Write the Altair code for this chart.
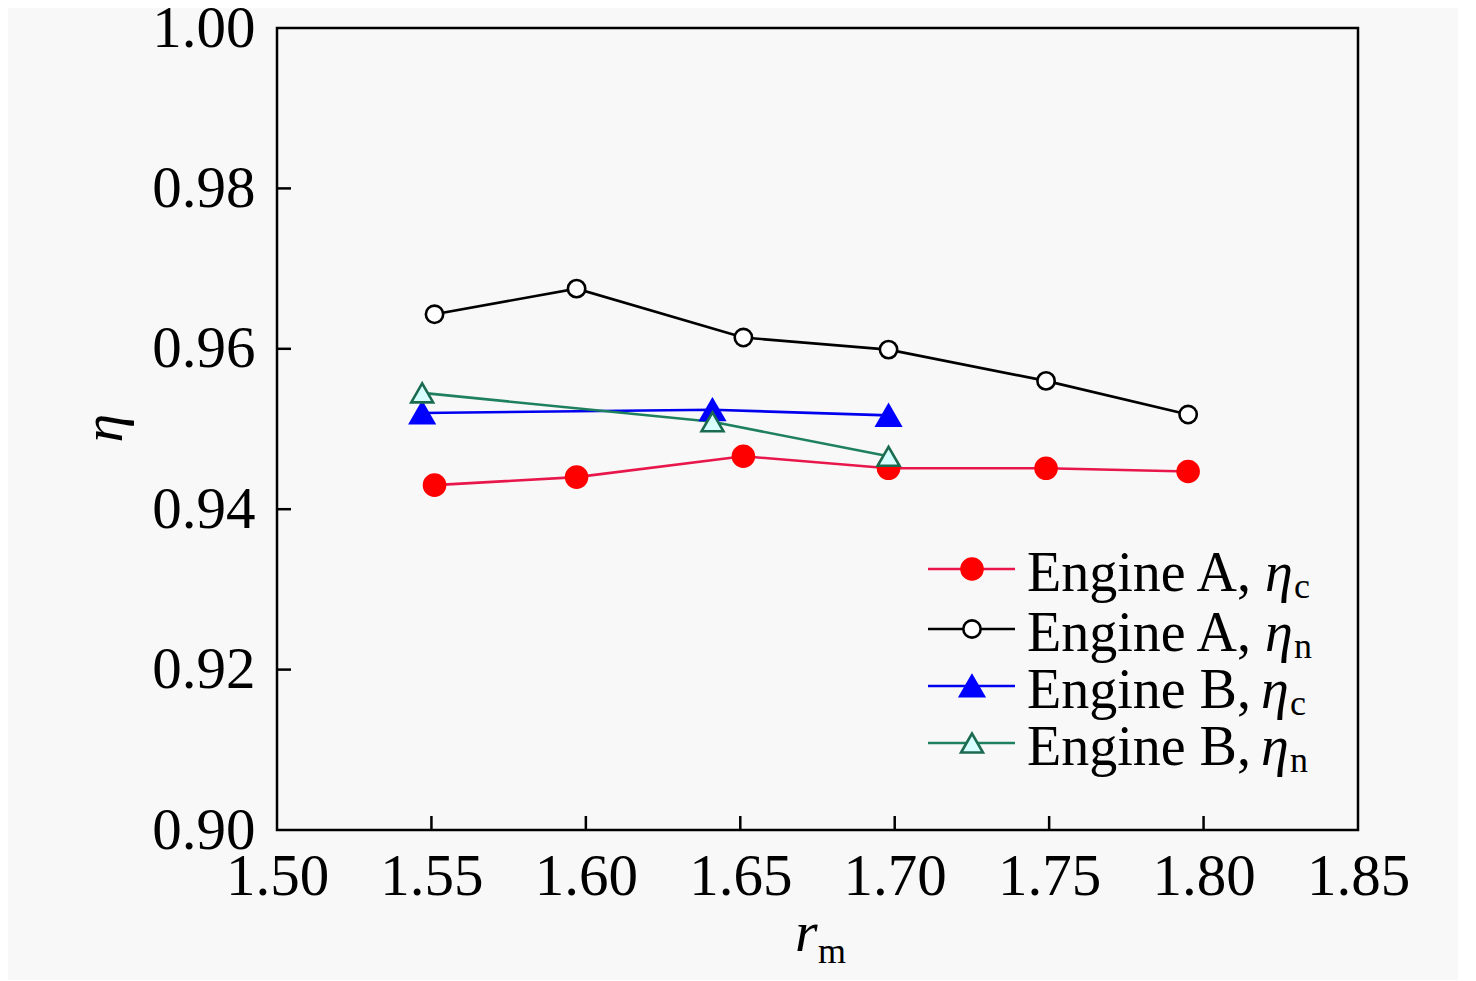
import altair as alt
import pandas as pd

# ---- data ----
x_a = [1.551, 1.597, 1.651, 1.698, 1.749, 1.795]
eta_c_a = [0.9430, 0.9440, 0.9466, 0.9451, 0.9451, 0.9447]
eta_n_a = [0.9643, 0.9675, 0.9614, 0.9599, 0.9560, 0.9518]
x_b = [1.547, 1.641, 1.698]
eta_c_b = [0.9520, 0.9524, 0.9517]
eta_n_b = [0.9545, 0.9509, 0.9466]

x_ticks = [1.50, 1.55, 1.60, 1.65, 1.70, 1.75, 1.80, 1.85]
y_ticks = [0.90, 0.92, 0.94, 0.96, 0.98, 1.00]

legend_main = ["Engine A, ", "Engine A, ", "Engine B, ", "Engine B, "]
legend_sub = ["c", "n", "c", "n"]

TOP = 20
W, H = 1081, 830 - 8 - TOP
FONT = "Liberation Serif"

series = [
    # xs, ys, line colour, shape, fill, stroke, size
    (x_a, eta_c_a, "#e8164a", "circle", "#ff0000", "#ff0000", 440),
    (x_a, eta_n_a, "#000000", "circle", "#ffffff", "#000000", 300),
    (x_b, eta_c_b, "#0000ee", "triangle-up", "#0000ff", "#0000ff", 560),
    (x_b, eta_n_b, "#1f8060", "triangle-up", "#d8ffff", "#1b6b50", 480),
]

xscale = alt.Scale(domain=[1.50, 1.85], nice=False, zero=False)
yscale = alt.Scale(domain=[0.90, 1.00], nice=False, zero=False)

xaxis = alt.Axis(values=x_ticks, format=".2f", labelFont=FONT, labelFontSize=59,
                 labelColor="black", labelPadding=17, ticks=False, domain=False,
                 grid=False, title="", labelFlush=False, labelOverlap=False)
yaxis = alt.Axis(values=y_ticks, format=".2f", labelFont=FONT, labelFontSize=59,
                 labelColor="black", labelPadding=22, ticks=False, domain=False,
                 grid=False, title="", labelFlush=False, labelOverlap=False)

X = lambda: alt.X("x:Q", scale=xscale, axis=xaxis)
Y = lambda: alt.Y("y:Q", scale=yscale, axis=yaxis)

layers = []
for xs, ys, lc, shape, fill, stroke, size in series:
    df = pd.DataFrame({"x": xs, "y": ys})
    layers.append(alt.Chart(df).mark_line(color=lc, strokeWidth=2.6).encode(x=X(), y=Y()))
for xs, ys, lc, shape, fill, stroke, size in series:
    df = pd.DataFrame({"x": xs, "y": ys})
    layers.append(alt.Chart(df).mark_point(shape=shape, filled=True, fill=fill, stroke=stroke,
                                           strokeWidth=2.6, size=size, opacity=1)
                  .encode(x=X(), y=Y()))

# inward ticks
layers.append(alt.Chart(pd.DataFrame({"x": x_ticks[1:-1]})).mark_rule(color="black", strokeWidth=2.5)
              .encode(x=X(), y=alt.value(H), y2=alt.value(H - 14)))
layers.append(alt.Chart(pd.DataFrame({"y": y_ticks[1:-1]})).mark_rule(color="black", strokeWidth=2.5)
              .encode(y=Y(), x=alt.value(0), x2=alt.value(14)))

dummy = pd.DataFrame({"a": [0]})

# custom legend (page-relative rows converted to plot-relative)
row_y = [569 - 8 - TOP, 629 - 8 - TOP, 686 - 8 - TOP, 743 - 8 - TOP]
for i, (xs, ys, lc, shape, fill, stroke, size) in enumerate(series):
    ry = row_y[i]
    layers.append(alt.Chart(dummy).mark_rule(color=lc, strokeWidth=2.6)
                  .encode(x=alt.value(651), x2=alt.value(738), y=alt.value(ry)))
    layers.append(alt.Chart(dummy).mark_point(shape=shape, filled=True, fill=fill, stroke=stroke,
                                              strokeWidth=2.6, size=size, opacity=1)
                  .encode(x=alt.value(695), y=alt.value(ry)))
    layers.append(alt.Chart(dummy).mark_text(text=legend_main[i], font=FONT, fontSize=56,
                                             align="left", baseline="alphabetic", color="black")
                  .encode(x=alt.value(750), y=alt.value(ry + 22)))
    ex = 988 if "A" in legend_main[i] else 984
    layers.append(alt.Chart(dummy).mark_text(text="η", font=FONT, fontSize=56, fontStyle="italic",
                                             align="left", baseline="alphabetic", color="black")
                  .encode(x=alt.value(ex), y=alt.value(ry + 22)))
    layers.append(alt.Chart(dummy).mark_text(text=legend_sub[i], font=FONT, fontSize=36,
                                             align="left", baseline="alphabetic", color="black")
                  .encode(x=alt.value(ex + 29), y=alt.value(ry + 29)))

# axis titles
layers.append(alt.Chart(dummy).mark_text(text="η", font=FONT, fontSize=58, fontStyle="italic",
                                         angle=270, align="center", baseline="middle", color="black")
              .encode(x=alt.value(-172), y=alt.value(428 - 8 - TOP)))
layers.append(alt.Chart(dummy).mark_text(text="r", font=FONT, fontSize=58, fontStyle="italic",
                                         align="left", baseline="alphabetic", color="black")
              .encode(x=alt.value(518), y=alt.value(951 - 8 - TOP)))
layers.append(alt.Chart(dummy).mark_text(text="m", font=FONT, fontSize=36,
                                         align="left", baseline="alphabetic", color="black")
              .encode(x=alt.value(541), y=alt.value(963 - 8 - TOP)))

chart = alt.layer(*layers).properties(
    width=W, height=H,
    autosize=alt.AutoSizeParams(type="none"),
    padding={"left": 269, "top": TOP, "right": 100, "bottom": 150},
    background="#f8f8f8",
).configure_view(stroke="black", strokeWidth=2.5)

chart.save("out.html", embed_options={"renderer": "svg", "actions": False})
